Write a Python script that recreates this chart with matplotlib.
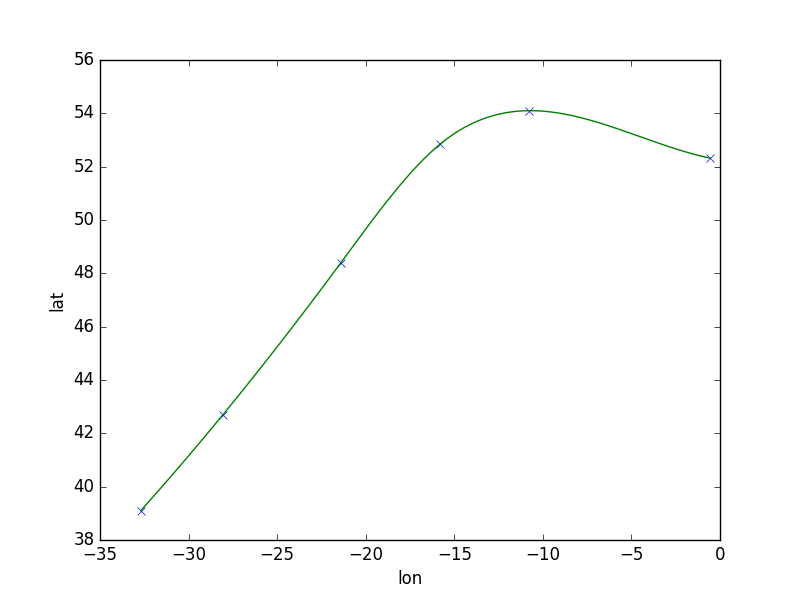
import numpy as np
import matplotlib
matplotlib.use("Agg")
import matplotlib.pyplot as plt

plt.style.use("classic")

lon = [-32.70, -28.07, -21.41, -15.81, -10.78, -0.56]
lat = [39.10, 42.69, 48.39, 52.84, 54.10, 52.32]


def notaknot_cubic_spline(x, y, xs):
    x = np.asarray(x, float)
    y = np.asarray(y, float)
    n = len(x)
    h = np.diff(x)
    A = np.zeros((n, n))
    b = np.zeros(n)
    A[0, 0] = h[1]; A[0, 1] = -(h[0] + h[1]); A[0, 2] = h[0]
    A[-1, -3] = h[-1]; A[-1, -2] = -(h[-2] + h[-1]); A[-1, -1] = h[-2]
    for i in range(1, n - 1):
        A[i, i - 1] = h[i - 1]
        A[i, i] = 2 * (h[i - 1] + h[i])
        A[i, i + 1] = h[i]
        b[i] = 6 * ((y[i + 1] - y[i]) / h[i] - (y[i] - y[i - 1]) / h[i - 1])
    M = np.linalg.solve(A, b)
    idx = np.clip(np.searchsorted(x, xs) - 1, 0, n - 2)
    x0, x1 = x[idx], x[idx + 1]
    hi = h[idx]
    t0 = x1 - xs
    t1 = xs - x0
    return (M[idx] * t0**3 / (6 * hi) + M[idx + 1] * t1**3 / (6 * hi)
            + (y[idx] / hi - M[idx] * hi / 6) * t0
            + (y[idx + 1] / hi - M[idx + 1] * hi / 6) * t1)


xs = np.linspace(lon[0], lon[-1], 300)
ys = notaknot_cubic_spline(lon, lat, xs)

fig = plt.figure(figsize=(8, 6), dpi=100, facecolor="white")
ax = fig.add_subplot(111)
ax.plot(lon, lat, "bx")
ax.plot(xs, ys, "g-")
ax.set_xlim(-35, 0)
ax.set_ylim(38, 56)
ax.set_xlabel("lon")
ax.set_ylabel("lat")
fig.savefig("out.png", dpi=100, facecolor="white")
